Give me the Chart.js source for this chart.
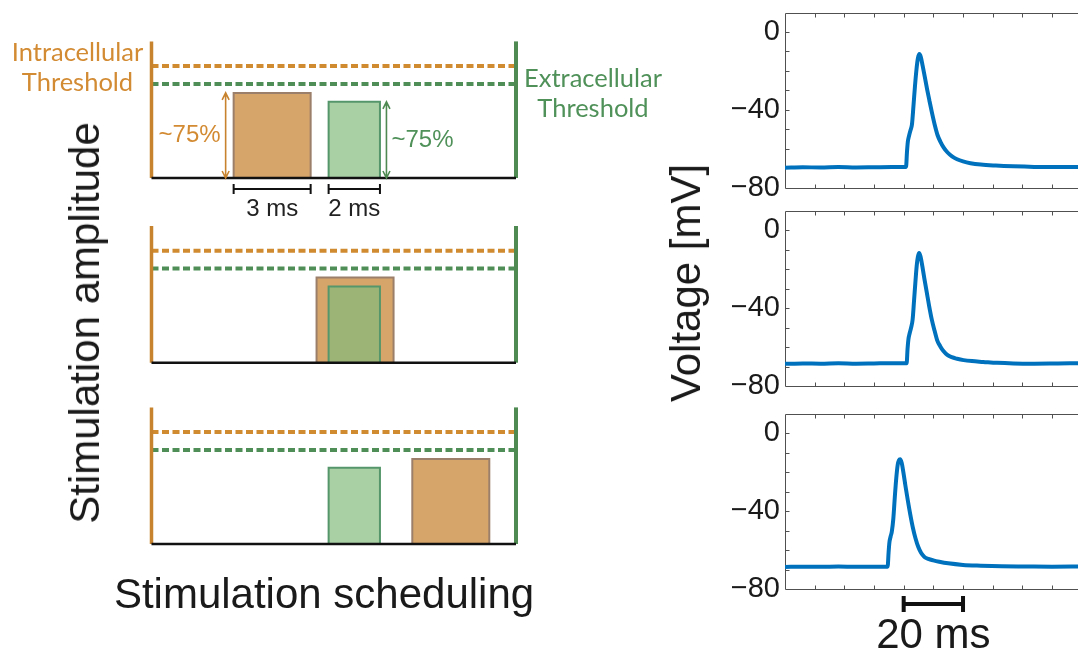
<!DOCTYPE html>
<html>
<head>
<meta charset="utf-8">
<script src="https://cdn.jsdelivr.net/npm/chart.js@4.4.1/dist/chart.umd.min.js"></script>
<style>
  html, body { margin: 0; padding: 0; background: #fff; }
  body { width: 1078px; height: 651px; overflow: hidden; position: relative; font-family: "Liberation Sans", Arial, sans-serif; }
  canvas { position: absolute; }
  .t { position: absolute; white-space: nowrap; }
  .thr { font-family: Lato, "Open Sans", sans-serif; font-size: 25.5px; line-height: 30px; text-align: center; }
  .big { font-size: 42px; line-height: 42px; color: #1a1a1a; }
</style>
</head>
<body>

<canvas id="stim0" width="560" height="230" style="left:0;top:0"></canvas>
<canvas id="stim1" width="560" height="190" style="left:0;top:200px"></canvas>
<canvas id="stim2" width="560" height="190" style="left:0;top:380px"></canvas>

<canvas id="volt0" width="400" height="215" style="left:700px;top:0"></canvas>
<canvas id="volt1" width="400" height="220" style="left:700px;top:195px"></canvas>
<canvas id="volt2" width="400" height="256" style="left:700px;top:395px"></canvas>

<div class="t thr" style="left:7px;top:36px;width:141px;color:#D38B33">Intracellular<br>Threshold</div>
<div class="t thr" style="left:520px;top:62px;width:146px;color:#4F9159">Extracellular<br>Threshold</div>

<div class="t big" style="left:85px;top:323px;transform:translate(-50%,-50%) rotate(-90deg)">Stimulation amplitude</div>
<div class="t big" style="left:324px;top:573px;transform:translateX(-50%)">Stimulation scheduling</div>
<div class="t big" style="left:686px;top:283px;transform:translate(-50%,-50%) rotate(-90deg)">Voltage [mV]</div>

<script>
// ---- stimulation schematic (left column) ----
const scheduleSpan = 14.2;          // ms between the two electrode bars
const axisTop = 1.22;               // top of the vertical bars (threshold = 1)
const intraThreshold = 1.0;
const extraThreshold = 0.84;
const intraAmplitude = 0.76;
const extraAmplitude = 0.68;
const intraDuration = 3;            // ms
const extraDuration = 2;            // ms
const intraOnsets = [3.2, 6.43, 10.16];
const extraOnsets = [6.9, 6.9, 6.9];
const amplitudeLabel = '~75%';

// ---- recorded membrane voltage (right column) ----
const time1 = [0, 6, 12, 18, 24, 30, 36, 40.8, 41.1, 41.4, 41.8, 42.3, 42.8, 43.3, 43.8, 44.3, 44.8, 45.3, 45.8, 46.4, 47.1, 47.9, 48.7, 49.6, 50.5, 51.4, 52.4, 53.5, 54.8, 56.3, 58.0, 60.0, 62.5, 66.0, 71.0, 77.0, 84.0, 92.0, 100.0];
const volt1 = [-69.8, -69.6, -69.7, -69.5, -69.7, -69.6, -69.5, -69.4, -62.0, -56.5, -53.5, -50.5, -47.5, -38.0, -28.0, -19.5, -13.5, -11.4, -13.0, -17.5, -23.0, -29.5, -35.5, -42.0, -48.0, -53.0, -56.5, -59.5, -62.0, -64.0, -65.5, -66.6, -67.5, -68.2, -68.7, -69.1, -69.4, -69.5, -69.5];

const time2 = [0, 6, 12, 18, 24, 30, 36, 41.0, 41.3, 41.6, 42.0, 42.5, 43.0, 43.5, 44.0, 44.4, 44.8, 45.2, 45.7, 46.3, 47.0, 47.8, 48.6, 49.5, 50.4, 51.3, 52.3, 53.4, 54.7, 56.2, 58.0, 60.2, 63.0, 66.8, 71.5, 77.0, 84.0, 92.0, 100.0];
const volt2 = [-68.6, -68.4, -68.5, -68.3, -68.5, -68.4, -68.3, -68.3, -61.0, -56.0, -53.0, -50.0, -46.0, -36.0, -25.5, -18.0, -13.5, -11.6, -13.5, -18.5, -25.0, -32.0, -39.0, -46.0, -51.5, -56.5, -59.5, -62.0, -64.0, -65.2, -66.0, -66.7, -67.2, -67.6, -68.1, -68.4, -68.5, -68.4, -68.3];

const time3 = [0, 6, 12, 18, 24, 30, 34.6, 34.9, 35.2, 35.6, 36.0, 36.5, 37.0, 37.5, 38.0, 38.4, 38.8, 39.3, 39.9, 40.6, 41.4, 42.2, 43.1, 44.0, 44.9, 45.9, 47.0, 48.3, 50.0, 52.0, 55.0, 60.0, 66.0, 73.0, 81.0, 90.0, 100.0];
const volt3 = [-68.7, -68.5, -68.6, -68.4, -68.6, -68.5, -68.5, -61.5, -56.0, -53.0, -50.5, -44.0, -33.0, -23.0, -16.0, -13.8, -13.3, -15.0, -20.0, -27.0, -34.5, -41.5, -48.5, -54.0, -58.3, -61.5, -63.5, -64.5, -65.3, -66.0, -66.8, -67.6, -68.0, -68.3, -68.4, -68.5, -68.4];

const voltTicks = [0, -40, -80];
const voltRange = [-80, 10];
const timeRange = [0, 100];
const minorStep = 10;               // minor tick spacing, both axes
const scaleBarStart = 40;           // ms
const scaleBarLength = 20;          // ms

// colours
const ORANGE = '#C8832F';
const ORANGE_DASH = '#D08A30';
const ORANGE_TEXT = '#D38B33';
const GREEN = '#4E8A52';
const GREEN_DASH = '#4F8F57';
const GREEN_TEXT = '#4F9159';
const TRACE_BLUE = '#0072BD';

Chart.defaults.font.family = '"Liberation Sans", Arial, sans-serif';

// helpers to turn values into point lists
function pulseShape(onset, duration, amplitude) {
    return [{x: onset, y: 0}, {x: onset, y: amplitude}, {x: onset + duration, y: amplitude}, {x: onset + duration, y: 0}];
}
function hline(level) { return [{x: 0, y: level}, {x: scheduleSpan, y: level}]; }
function vline(pos) { return [{x: pos, y: 0}, {x: pos, y: axisTop}]; }

function drawDoubleArrow(ctx, x, yTop, yBottom, color) {
    const head = 7, half = 3.5;
    ctx.save();
    ctx.strokeStyle = color;
    ctx.lineWidth = 1.6;
    ctx.beginPath();
    ctx.moveTo(x, yTop); ctx.lineTo(x, yBottom);
    ctx.moveTo(x - half, yTop + head); ctx.lineTo(x, yTop); ctx.lineTo(x + half, yTop + head);
    ctx.moveTo(x - half, yBottom - head); ctx.lineTo(x, yBottom); ctx.lineTo(x + half, yBottom - head);
    ctx.stroke();
    ctx.restore();
}

// arrows, amplitude labels and duration brackets of the first panel
const stimNotes = {
    id: 'stimNotes',
    afterDatasetsDraw(chart, args, opts) {
        if (!opts.show) return;
        const {ctx, scales: {x, y}} = chart;
        const i = opts.panel;
        const base = y.getPixelForValue(0);
        const marks = [
            {t0: intraOnsets[i], dur: intraDuration, amp: intraAmplitude, side: -1, line: ORANGE, text: ORANGE_TEXT},
            {t0: extraOnsets[i], dur: extraDuration, amp: extraAmplitude, side: 1, line: GREEN, text: GREEN_TEXT}
        ];
        marks.forEach(m => {
            const left = x.getPixelForValue(m.t0);
            const right = x.getPixelForValue(m.t0 + m.dur);
            const top = y.getPixelForValue(m.amp);
            const ax = m.side < 0 ? left - 8 : right + 6.5;
            drawDoubleArrow(ctx, ax, top, base, m.line);

            ctx.save();
            ctx.font = '24px "Liberation Sans"';
            ctx.fillStyle = m.text;
            ctx.textAlign = m.side < 0 ? 'right' : 'left';
            ctx.textBaseline = 'middle';
            ctx.fillText(amplitudeLabel, ax + m.side * 5, y.getPixelForValue(m.amp / 2));

            const by = base + 11;
            ctx.strokeStyle = '#111';
            ctx.lineWidth = 2;
            ctx.beginPath();
            ctx.moveTo(left, by); ctx.lineTo(right, by);
            ctx.moveTo(left, by - 5); ctx.lineTo(left, by + 5);
            ctx.moveTo(right, by - 5); ctx.lineTo(right, by + 5);
            ctx.stroke();
            ctx.font = '24px "Liberation Sans"';
            ctx.fillStyle = '#222';
            ctx.textAlign = 'center';
            ctx.fillText(m.dur + ' ms', (left + right) / 2, base + 31);
            ctx.restore();
        });
    }
};

function makeStimChart(i, canvasTop, areaTop, areaBottom) {
    const canvas = document.getElementById('stim' + i);
    const common = {pointRadius: 0, tension: 0, clip: false, fill: false};
    new Chart(canvas, {
        type: 'line',
        data: {
            datasets: [
                {...common, data: pulseShape(intraOnsets[i], intraDuration, intraAmplitude), fill: 'origin',
                    backgroundColor: '#D6A56A', borderColor: '#9C7F6A', borderWidth: 2, order: 6},
                {...common, data: pulseShape(extraOnsets[i], extraDuration, extraAmplitude), fill: 'origin',
                    backgroundColor: 'rgba(132,186,126,0.7)', borderColor: '#55976A', borderWidth: 2, order: 5},
                {...common, data: hline(intraThreshold), borderColor: ORANGE_DASH, borderWidth: 4, borderDash: [7, 3.5], order: 4},
                {...common, data: hline(extraThreshold), borderColor: GREEN_DASH, borderWidth: 4, borderDash: [7, 3.5], order: 3},
                {...common, data: vline(0), borderColor: ORANGE, borderWidth: 3.5, order: 2},
                {...common, data: vline(scheduleSpan), borderColor: GREEN, borderWidth: 4, order: 2},
                {...common, data: hline(0), borderColor: '#111', borderWidth: 2.5, order: 1}
            ]
        },
        options: {
            responsive: false,
            animation: false,
            events: [],
            layout: {
                padding: {left: 151.5, right: canvas.width - 516, top: areaTop - canvasTop, bottom: canvasTop + canvas.height - areaBottom}
            },
            plugins: {
                legend: {display: false},
                tooltip: {enabled: false},
                stimNotes: {panel: i, show: i === 0}
            },
            scales: {
                x: {type: 'linear', min: 0, max: scheduleSpan, display: false},
                y: {min: 0, max: axisTop, display: false}
            }
        },
        plugins: [stimNotes]
    });
}

// box around each trace with inward minor ticks
const framePlugin = {
    id: 'frame',
    beforeDatasetsDraw(chart) {
        const {ctx, chartArea: a, scales: {x, y}} = chart;
        const L = Math.round(a.left) + 0.5, T = Math.round(a.top) + 0.5, B = Math.round(a.bottom) + 0.5;
        ctx.save();
        ctx.strokeStyle = '#505050';
        ctx.lineWidth = 1;
        ctx.beginPath();
        ctx.moveTo(a.right + 10, T); ctx.lineTo(L, T); ctx.lineTo(L, B); ctx.lineTo(a.right + 10, B);
        for (let t = timeRange[0] + minorStep; t <= timeRange[1]; t += minorStep) {
            const px = Math.round(x.getPixelForValue(t)) + 0.5;
            ctx.moveTo(px, T); ctx.lineTo(px, T + 4);
            ctx.moveTo(px, B); ctx.lineTo(px, B - 4);
        }
        for (let v = voltRange[0] + minorStep; v < voltRange[1]; v += minorStep) {
            const py = Math.round(y.getPixelForValue(v)) + 0.5;
            ctx.moveTo(L, py); ctx.lineTo(L + 4, py);
        }
        ctx.stroke();
        ctx.restore();
    }
};

// 20 ms scale bar under the last trace
const scaleBarPlugin = {
    id: 'scaleBar',
    afterDraw(chart, args, opts) {
        if (!opts.show) return;
        const {ctx, chartArea: a, scales: {x}} = chart;
        const x0 = x.getPixelForValue(scaleBarStart);
        const x1 = x.getPixelForValue(scaleBarStart + scaleBarLength);
        const by = a.bottom + 15;
        ctx.save();
        ctx.strokeStyle = '#111';
        ctx.lineWidth = 4;
        ctx.beginPath();
        ctx.moveTo(x0, by); ctx.lineTo(x1, by);
        ctx.moveTo(x0, by - 8); ctx.lineTo(x0, by + 8);
        ctx.moveTo(x1, by - 8); ctx.lineTo(x1, by + 8);
        ctx.stroke();
        ctx.font = '42px "Liberation Sans"';
        ctx.fillStyle = '#1a1a1a';
        ctx.textAlign = 'center';
        ctx.textBaseline = 'alphabetic';
        ctx.fillText(scaleBarLength + ' ms', (x0 + x1) / 2, a.bottom + 59);
        ctx.restore();
    }
};

function makeTraceChart(i, times, volts, canvasTop, areaTop, areaBottom, withBar) {
    const canvas = document.getElementById('volt' + i);
    new Chart(canvas, {
        type: 'line',
        data: {
            datasets: [{
                data: times.map((t, k) => ({x: t, y: volts[k]})),
                borderColor: TRACE_BLUE,
                borderWidth: 4,
                pointRadius: 0,
                fill: false,
                cubicInterpolationMode: 'monotone'
            }]
        },
        options: {
            responsive: false,
            animation: false,
            events: [],
            layout: {
                padding: {left: 0, right: canvas.width - (1081.7 - 700), top: areaTop - canvasTop, bottom: canvasTop + canvas.height - areaBottom}
            },
            plugins: {
                legend: {display: false},
                tooltip: {enabled: false},
                scaleBar: {show: withBar}
            },
            scales: {
                x: {type: 'linear', min: timeRange[0], max: timeRange[1], display: false},
                y: {
                    min: voltRange[0],
                    max: voltRange[1],
                    grid: {display: false, drawTicks: false},
                    border: {display: false},
                    afterBuildTicks: s => { s.ticks = voltTicks.map(v => ({value: v})); },
                    afterFit: s => { s.width = 85; s.paddingTop = 0; s.paddingBottom = 0; },
                    ticks: {
                        padding: 5,
                        color: '#1a1a1a',
                        font: {size: 29},
                        callback: v => v < 0 ? '\u2212' + Math.abs(v) : String(v)
                    }
                }
            }
        },
        plugins: [framePlugin, scaleBarPlugin]
    });
}

makeStimChart(0, 0, 41.4, 178);
makeStimChart(1, 200, 226, 362.7);
makeStimChart(2, 380, 407.4, 544);

makeTraceChart(0, time1, volt1, 0, 12.5, 187.5, false);
makeTraceChart(1, time2, volt2, 195, 211, 386, false);
makeTraceChart(2, time3, volt3, 395, 414, 589, true);
</script>
</body>
</html>
